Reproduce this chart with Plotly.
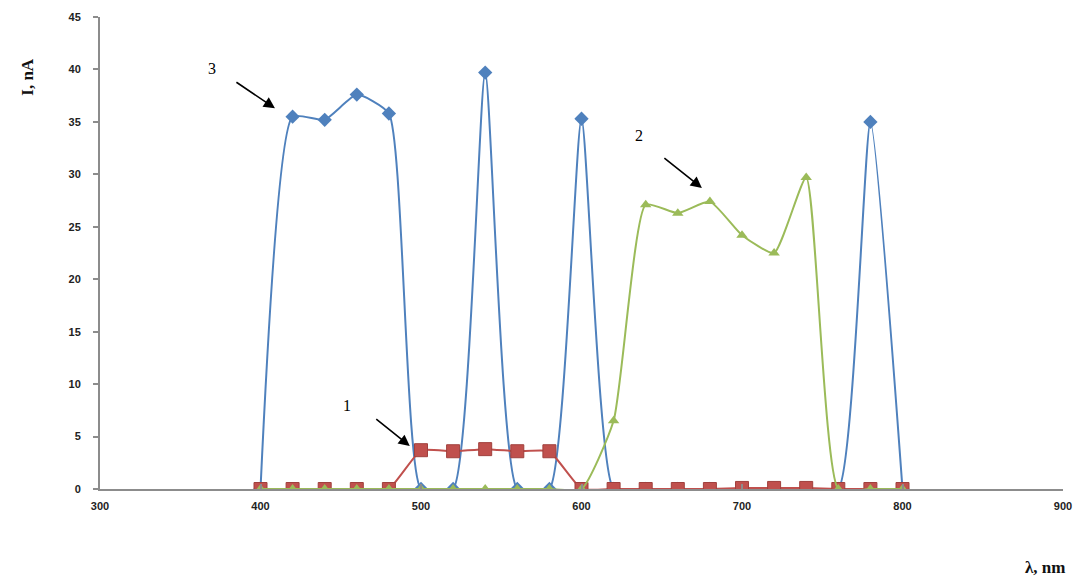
import plotly.graph_objects as go

# Wavelength grid, nm
wavelength = [400, 420, 440, 460, 480, 500, 520, 540, 560, 580, 600,
              620, 640, 660, 680, 700, 720, 740, 760, 780, 800]

# Photocurrent, nA, for the three samples
current_1 = [0, 0, 0, 0, 0, 3.7, 3.6, 3.8, 3.6, 3.6, 0,
             0, 0, 0, 0, 0.1, 0.1, 0.1, 0, 0, 0]
current_2 = [0, 0, 0, 0, 0, 0, 0, 0, 0, 0, 0,
             6.5, 27.1, 26.3, 27.4, 24.2, 22.5, 29.7, 0, 0, 0]
current_3 = [0, 35.5, 35.2, 37.6, 35.8, 0, 0, 39.7, 0, 0, 35.3,
             0, 0, 0, 0, 0, 0, 0, 0, 35.0, 0]

x_ticks = [300, 400, 500, 600, 700, 800, 900]
y_ticks = [0, 5, 10, 15, 20, 25, 30, 35, 40, 45]

BLUE = "#4F81BD"
RED = "#C0504D"
GREEN = "#9BBB59"

fig = go.Figure()

fig.add_trace(go.Scatter(
    x=wavelength, y=current_3, mode="lines+markers",
    line=dict(color=BLUE, width=2, shape="spline", smoothing=0.5),
    marker=dict(symbol="diamond", size=11, color=BLUE),
    name="3"))
fig.add_trace(go.Scatter(
    x=wavelength, y=current_1, mode="lines+markers",
    line=dict(color=RED, width=2, shape="spline", smoothing=0.4),
    marker=dict(symbol="square", size=13, color=RED,
                line=dict(color="#A0403D", width=1)),
    name="1"))
fig.add_trace(go.Scatter(
    x=wavelength, y=current_2, mode="lines+markers",
    line=dict(color=GREEN, width=2, shape="spline", smoothing=0.5),
    marker=dict(symbol="triangle-up", size=10, color=GREEN),
    name="2"))

tick_font = dict(family="Liberation Sans", size=11, color="#222222",
                 weight="bold")
title_font = dict(family="Liberation Serif", size=17, color="#111111")

fig.update_layout(
    width=1087, height=584,
    margin=dict(l=100, r=24, t=17, b=95),
    paper_bgcolor="white", plot_bgcolor="white",
    showlegend=False,
    xaxis=dict(range=[300, 900], tickvals=x_ticks, showgrid=False,
               zeroline=False, showline=True, linecolor="#8c8c8c",
               linewidth=2, ticks="inside", ticklen=5, tickcolor="#8c8c8c",
               tickwidth=2, tickfont=tick_font, ticklabelstandoff=6),
    yaxis=dict(range=[0, 45], tickvals=y_ticks, showgrid=False,
               zeroline=False, showline=True, linecolor="#8c8c8c",
               linewidth=2, ticks="outside", ticklen=5, tickcolor="#8c8c8c",
               tickwidth=2, tickfont=tick_font, ticklabelstandoff=10),
)

# Axis titles
fig.add_annotation(text="<b>I, nA</b>", xref="paper", yref="paper",
                   x=-0.075, y=0.873, xanchor="center", yanchor="middle",
                   showarrow=False, textangle=-90, font=title_font)
fig.add_annotation(text="<b>λ, nm</b>", xref="paper", yref="paper",
                   x=0.981, y=-0.19, showarrow=False, xanchor="center",
                   font=title_font)

# Curve labels with pointers
arrow_style = dict(showarrow=True, arrowhead=2, arrowsize=1.4,
                   arrowwidth=1.6, arrowcolor="black", text="",
                   xref="x", yref="y", axref="pixel", ayref="pixel")
fig.add_annotation(x=409, y=36.3, ax=-40, ay=-27, **arrow_style)
fig.add_annotation(x=493, y=4.1, ax=-35, ay=-28, **arrow_style)
fig.add_annotation(x=675, y=28.7, ax=-39, ay=-31, **arrow_style)

label_font = dict(family="Liberation Serif", size=16, color="black")
fig.add_annotation(text="3", x=370, y=40.1, xref="x", yref="y",
                   showarrow=False, font=label_font)
fig.add_annotation(text="1", x=454, y=8.0, xref="x", yref="y",
                   showarrow=False, font=label_font)
fig.add_annotation(text="2", x=636, y=33.7, xref="x", yref="y",
                   showarrow=False, font=label_font)

fig.write_html("out.html")
